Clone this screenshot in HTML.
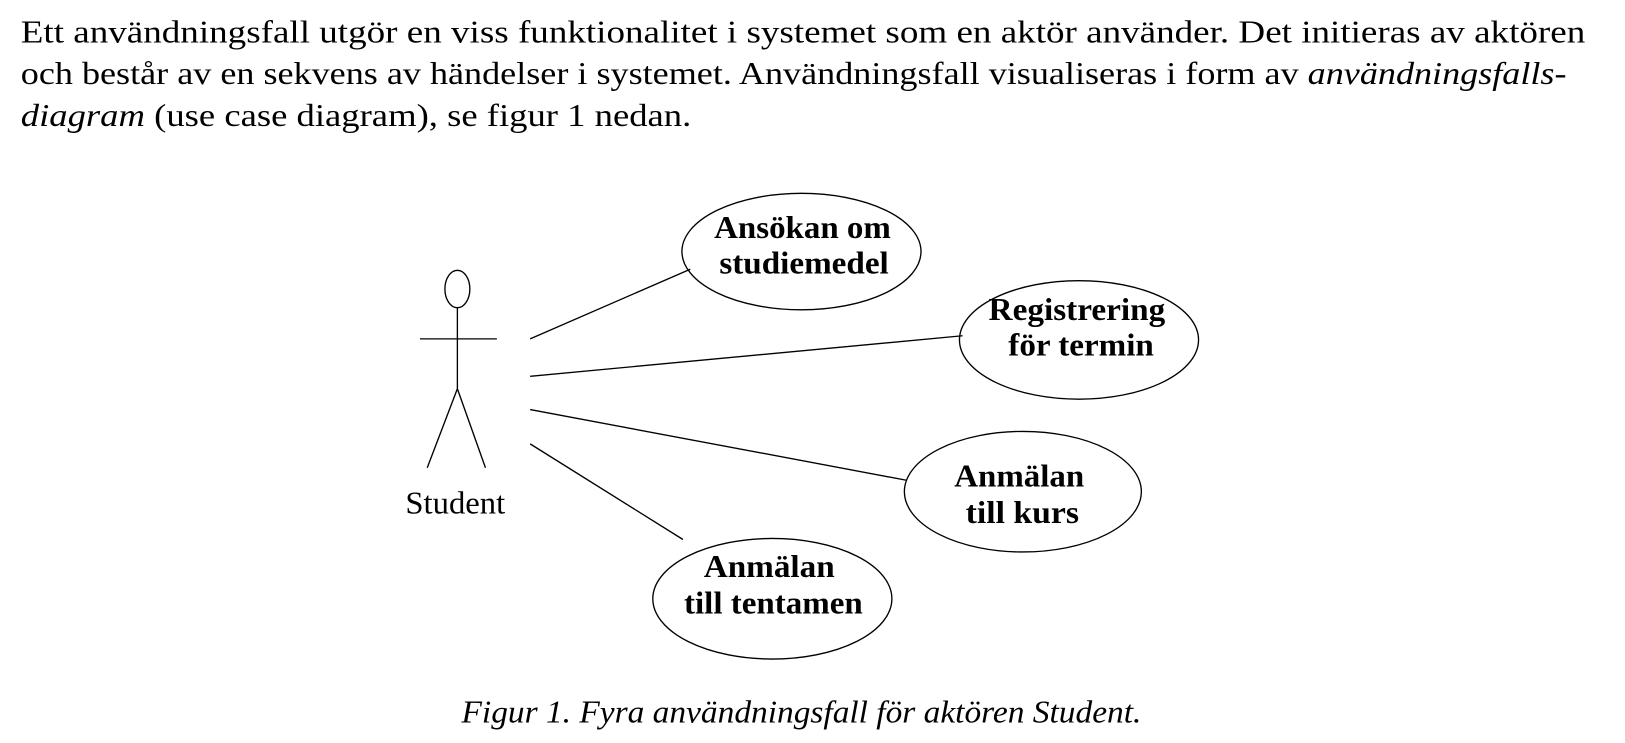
<!DOCTYPE html>
<html><head><meta charset="utf-8"><style>
html,body{margin:0;padding:0;background:#fff;}
svg{display:block;}
</style></head><body>
<svg width="1625" height="743" viewBox="0 0 1625 743" xmlns="http://www.w3.org/2000/svg" font-family="'Liberation Serif', serif" fill="#000">
<g transform="scale(1.0395)">
<text x="20" y="41" font-size="31" textLength="1505" lengthAdjust="spacingAndGlyphs">Ett användningsfall utgör en viss funktionalitet i systemet som en aktör använder. Det initieras av aktören</text>
<text x="20" y="81" font-size="31" textLength="1487" lengthAdjust="spacingAndGlyphs">och består av en sekvens av händelser i systemet. Användningsfall visualiseras i form av <tspan font-style="italic">användningsfalls-</tspan></text>
<text x="20" y="121" font-size="31" textLength="645" lengthAdjust="spacingAndGlyphs"><tspan font-style="italic">diagram</tspan> (use case diagram), se figur 1 nedan.</text>

<g fill="none" stroke="#000" stroke-width="1.3">
<ellipse cx="440" cy="278" rx="12" ry="18"/>
<line x1="404" y1="326" x2="478" y2="326"/>
<line x1="440" y1="296" x2="440" y2="374"/>
<line x1="440" y1="374" x2="411" y2="450"/>
<line x1="440" y1="374" x2="467" y2="450"/>
<line x1="510" y1="326" x2="664" y2="259"/>
<line x1="510" y1="362" x2="926" y2="323"/>
<line x1="510" y1="394" x2="872" y2="462"/>
<line x1="510" y1="427" x2="657" y2="519"/>
<ellipse cx="771" cy="242" rx="115" ry="56"/>
<ellipse cx="1038" cy="327" rx="115" ry="57"/>
<ellipse cx="984" cy="473" rx="114" ry="58"/>
<ellipse cx="743" cy="576" rx="115" ry="58"/>
</g>
<text x="390" y="494" font-size="30" textLength="96" lengthAdjust="spacingAndGlyphs">Student</text>
<g font-size="30" font-weight="bold">
<text x="687" y="229" textLength="170" lengthAdjust="spacingAndGlyphs">Ansökan om</text>
<text x="692" y="263" textLength="163" lengthAdjust="spacingAndGlyphs">studiemedel</text>
<text x="951" y="308" textLength="170" lengthAdjust="spacingAndGlyphs">Registrering</text>
<text x="970" y="342" textLength="140" lengthAdjust="spacingAndGlyphs">för termin</text>
<text x="918" y="468" textLength="125" lengthAdjust="spacingAndGlyphs">Anmälan</text>
<text x="929" y="503" textLength="109" lengthAdjust="spacingAndGlyphs">till kurs</text>
<text x="677" y="555" textLength="126" lengthAdjust="spacingAndGlyphs">Anmälan</text>
<text x="658" y="590" textLength="172" lengthAdjust="spacingAndGlyphs">till tentamen</text>
</g>
<text x="444" y="695" font-size="31" font-style="italic" textLength="654" lengthAdjust="spacingAndGlyphs">Figur 1. Fyra användningsfall för aktören Student.</text>
</g>
</svg>
</body></html>
